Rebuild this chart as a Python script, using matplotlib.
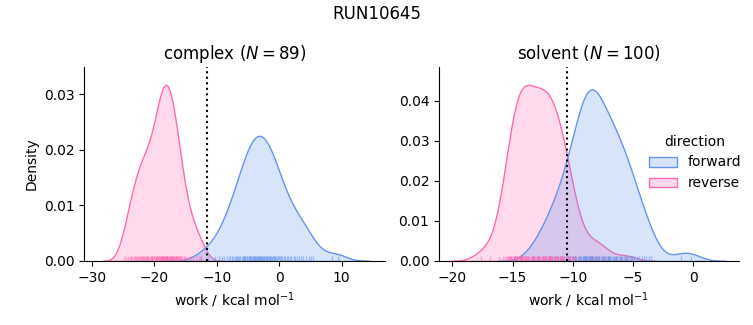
import matplotlib
matplotlib.use("Agg")
import matplotlib.pyplot as plt
import numpy as np
import pandas as pd
import seaborn as sns

run_name = "RUN10645"

# work values (kcal/mol)
complex_forward = [-12.6, -11.4, -10.3, -9.7, -9.2, -8.8, -8.4, -8.1,
                   -7.9, -7.6, -7.4, -7.1, -6.9, -6.7, -6.6, -6.4, -6.2,
                   -5.9, -5.8, -5.7, -5.6, -5.5, -5.4, -5.2, -5.1,
                   -4.9, -4.8, -4.7, -4.6, -4.5, -4.4, -4.2, -4.1, -4.0,
                   -3.9, -3.8, -3.7, -3.6, -3.5, -3.4, -3.3, -3.2, -3.1, -3.0,
                   -2.9, -2.8, -2.7, -2.6, -2.5, -2.4, -2.2, -2.1, -2.0,
                   -1.9, -1.8, -1.6, -1.5, -1.4, -1.3, -1.1, -1.0,
                   -0.9, -0.8, -0.6, -0.5, -0.3, -0.2, -0.1,
                   0.1, 0.3, 0.5, 0.7, 0.9,
                   1.2, 1.4, 1.7, 1.9,
                   2.3, 2.6, 2.9,
                   3.2, 3.5, 3.8,
                   4.3, 4.7, 5.1, 5.4, 8.5, 9.4]
complex_reverse = [-24.8, -24.5, -24.2,
                   -23.9, -23.7, -23.5, -23.3, -23.1,
                   -22.9, -22.8, -22.6, -22.5, -22.3, -22.2, -22.0,
                   -21.9, -21.8, -21.6, -21.5, -21.4, -21.2, -21.1, -21.0,
                   -20.9, -20.6, -20.5, -20.4, -20.3, -20.2, -20.0,
                   -19.9, -19.8, -19.7, -19.6, -19.5, -19.4, -19.3, -19.2, -19.1, -19.0,
                   -18.9, -18.9, -18.8, -18.7, -18.6, -18.6, -18.5, -18.5, -18.4, -18.3, -18.2, -18.2, -18.1, -18.0,
                   -17.9, -17.9, -17.8, -17.7, -17.6, -17.5, -17.5, -17.4, -17.3, -17.2, -17.2, -17.1, -17.0,
                   -16.9, -16.8, -16.7, -16.6, -16.5, -16.4, -16.3, -16.2, -16.1, -16.0,
                   -15.9, -15.7, -15.5, -15.3, -15.1,
                   -14.9, -14.5, -14.1, -13.8, -13.4, -12.9, -12.5]
solvent_forward = [-13.3, -12.8, -12.5, -12.2,
                   -11.9, -11.7, -11.5, -11.4, -11.2, -11.1,
                   -10.9, -10.8, -10.7, -10.6, -10.4, -10.3, -10.2, -10.1, -10.0,
                   -9.9, -9.8, -9.8, -9.7, -9.6, -9.5, -9.4, -9.4, -9.3, -9.2, -9.2, -9.1, -9.1, -9.0, -9.0,
                   -8.9, -8.9, -8.8, -8.8, -8.7, -8.7, -8.6, -8.6, -8.5,
                   -8.5, -8.4, -8.4, -8.3, -8.3, -8.2, -8.2, -8.1, -8.1, -8.0,
                   -7.9, -7.8, -7.8, -7.7, -7.6, -7.5, -7.5, -7.4, -7.3, -7.3, -7.2, -7.1, -7.1, -7.0, -7.0,
                   -6.9, -6.8, -6.7, -6.6, -6.5, -6.4, -6.4, -6.3, -6.2, -6.1, -6.0, -6.0,
                   -5.9, -5.8, -5.7, -5.6, -5.5, -5.4, -5.3, -5.2, -5.1, -5.0,
                   -4.9, -4.7, -4.5, -4.3, -4.1,
                   -3.9, -3.7, -3.5, -1.0, -0.2]
solvent_reverse = [-17.6, -16.9, -16.1,
                   -15.8, -15.6, -15.5, -15.4, -15.3, -15.3, -15.2, -15.1, -15.1, -15.0,
                   -14.9, -14.9, -14.8, -14.8, -14.7, -14.7, -14.6, -14.5, -14.5, -14.4,
                   -14.4, -14.3, -14.3, -14.2, -14.2, -14.1, -14.1, -14.0, -14.0,
                   -13.9, -13.9, -13.8, -13.7, -13.7, -13.6, -13.5, -13.4, -13.4, -13.3,
                   -13.2, -13.2, -13.1, -13.0, -13.0, -13.0, -12.9,
                   -12.9, -12.8, -12.7, -12.6, -12.6, -12.5, -12.4, -12.4, -12.3, -12.3, -12.2,
                   -12.1, -12.1, -12.0, -12.0, -11.9,
                   -11.9, -11.8, -11.8, -11.7, -11.6, -11.6, -11.5, -11.4, -11.3, -11.3, -11.2,
                   -11.1, -11.1, -11.0, -11.0, -10.9,
                   -10.8, -10.7, -10.6, -10.5, -10.4, -10.3, -10.2, -10.1, -10.0,
                   -9.8, -9.6, -8.7, -8.3, -7.9, -7.4, -5.6]
bar_estimates = {"complex": -11.6, "solvent": -10.5}
phases = ["complex", "solvent"]

rows = []
for phase, fwd, rev in [("complex", complex_forward, complex_reverse),
                        ("solvent", solvent_forward, solvent_reverse)]:
    for w in fwd:
        rows.append((phase, "forward", w))
    for w in rev:
        rows.append((phase, "reverse", w))
df = pd.DataFrame(rows, columns=["phase", "direction", "work"])

g = sns.displot(df, x="work", hue="direction", col="phase", kind="kde",
                fill=True, rug=True, rug_kws=dict(alpha=0.5),
                palette={"forward": "cornflowerblue", "reverse": "hotpink"},
                facet_kws=dict(sharex=False, sharey=False))

fig = g.figure
fig.set_size_inches(7.53, 3.25)
n_per_phase = {"complex": len(complex_forward), "solvent": len(solvent_forward)}
positions = [[0.112, 0.197, 0.399, 0.596], [0.583, 0.197, 0.398, 0.596]]
for ax, phase, pos in zip(g.axes.flat, phases, positions):
    ax.set_position(pos)
    ax.axvline(bar_estimates[phase], color="black", linestyle=":")
    ax.set_title(f"{phase} ($N = {n_per_phase[phase]}$)")
    ax.set_xlabel("work / kcal mol$^{-1}$")

g.axes.flat[0].set_xlim(-31.2, 16.9)
g.axes.flat[1].set_xlim(-21.1, 3.75)
g.axes.flat[0].set_ylabel("Density")
fig.suptitle(run_name, y=0.985)
sns.move_legend(g, "center left", bbox_to_anchor=(0.845, 0.5), frameon=False)

fig.savefig("out.png", dpi=100)
